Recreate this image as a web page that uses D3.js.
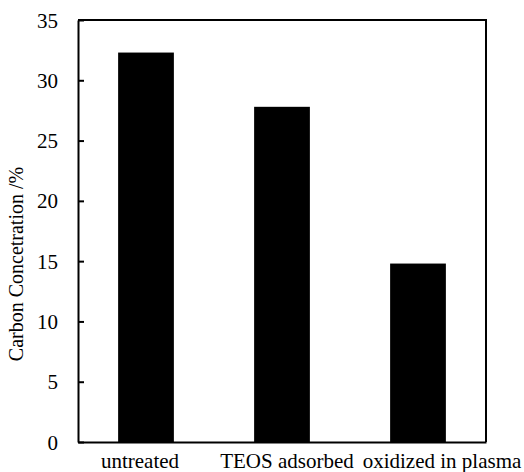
<!DOCTYPE html>
<html>
<head>
<meta charset="utf-8">
<script src="https://cdn.jsdelivr.net/npm/d3@7"></script>
<style>
    body { margin: 0; background: white; }
</style>
</head>
<body>
<div id="chart"></div>
<script>
// data
const categories = ["untreated", "TEOS adsorbed", "oxidized in plasma"];
const carbonConc = [32.3, 27.8, 14.8];
const yTicks = [0, 5, 10, 15, 20, 25, 30, 35];

// hand nudges for the category labels (the original has them off-centre)
const labelDx = [-6, 5, 24];

const serif = '"Liberation Serif", "Times New Roman", serif';

const W = 524, H = 472;
const margin = { top: 20, right: 38, bottom: 30, left: 78 };
const width = W - margin.left - margin.right;
const height = H - margin.top - margin.bottom;

const svg = d3.select("#chart").append("svg")
    .attr("width", W)
    .attr("height", H)
    .append("g")
    .attr("transform", `translate(${margin.left}, ${margin.top})`);

const data = categories.map((c, i) => ({ label: c, value: carbonConc[i] }));

const x = d3.scaleBand().domain(categories).range([0, width])
    .paddingInner(0.59).paddingOuter(0.295);
const y = d3.scaleLinear().domain([0, 35]).range([height, 0]);

// bars
svg.selectAll(".bar").data(data).enter().append("rect")
    .attr("class", "bar")
    .attr("x", d => x(d.label))
    .attr("y", d => y(d.value))
    .attr("width", x.bandwidth())
    .attr("height", d => y(0) - y(d.value))
    .attr("fill", "black");

// frame (top and right)
svg.append("path")
    .attr("d", `M0,${y(35)}H${width}V${height}`)
    .attr("fill", "none")
    .attr("stroke", "black")
    .attr("stroke-width", 2);

// y axis, ticks pointing inward
const yAxis = svg.append("g")
    .call(d3.axisLeft(y).tickValues(yTicks).tickSizeInner(-6).tickSizeOuter(0).tickPadding(20));
yAxis.attr("font-family", serif).attr("font-size", 21);
yAxis.select(".domain").attr("stroke-width", 2);
yAxis.selectAll(".tick line").attr("stroke-width", 2);
yAxis.selectAll("text").attr("dy", "0.34em");

// x axis, no ticks
const xAxis = svg.append("g")
    .attr("transform", `translate(0, ${height})`)
    .call(d3.axisBottom(x).tickSize(0).tickSizeOuter(0).tickPadding(0));
xAxis.attr("font-family", serif).attr("font-size", 21);
xAxis.select(".domain").attr("stroke-width", 2);
xAxis.selectAll("text")
    .attr("y", 26)
    .attr("dy", 0)
    .attr("dx", (d, i) => labelDx[i]);

// y axis title
svg.append("text")
    .attr("text-anchor", "middle")
    .attr("transform", `translate(${23 - margin.left}, ${264 - margin.top}) rotate(-90)`)
    .attr("font-family", serif)
    .attr("font-size", 20)
    .text("Carbon Concetration /%");
</script>
</body>
</html>
